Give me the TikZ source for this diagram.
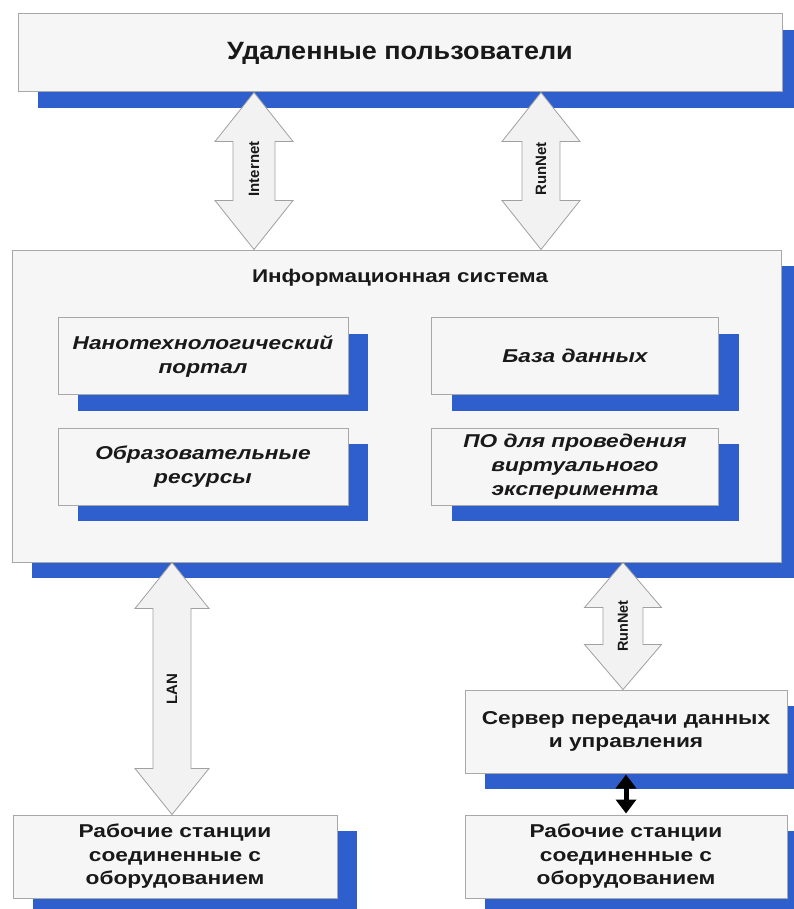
\documentclass[tikz,border=0pt]{standalone}
\usepackage{fontspec}
\setmainfont{Liberation Sans}
\newfontfamily\wideA[FakeStretch=1.08]{Liberation Sans}
\newfontfamily\wideB[FakeStretch=1.22]{Liberation Sans}
\usetikzlibrary{shadows,arrows.meta,calc}
\definecolor{sblue}{HTML}{2E5FCD}
\definecolor{boxfill}{HTML}{F6F6F6}
\definecolor{boxline}{HTML}{A8A8A8}
\definecolor{arrfill}{HTML}{F2F2F2}
\definecolor{arrline}{HTML}{A0A0A0}
% #1 x, #2 top anchor, #3 bottom anchor, #4 head half width, #5 shaft half width, #6 head length
\newcommand\dblarr[6]{%
  \draw[bigarrowline] let \p1=(#1|-#2), \p2=(#1|-#3) in
    (\x1,\y1) -- (\x1+#4pt,\y1-#6pt) -- (\x1+#5pt,\y1-#6pt) -- (\x1+#5pt,\y2+#6pt)
    -- (\x1+#4pt,\y2+#6pt) -- (\x1,\y2) -- (\x1-#4pt,\y2+#6pt) -- (\x1-#5pt,\y2+#6pt)
    -- (\x1-#5pt,\y1-#6pt) -- (\x1-#4pt,\y1-#6pt) -- cycle;}
\begin{document}
\begin{tikzpicture}[x=1pt,y=-1pt,
  blbox/.style={draw=boxline, line width=1pt, fill=boxfill, rectangle,
    align=center, inner sep=0pt, text=black!90,
    general shadow={fill=sblue, shadow xshift=20pt, shadow yshift=-16pt}},
  bigarrowline/.style={draw=arrline, line width=0.8pt, fill=arrfill, line join=miter},
  albl/.style={rotate=90, font=\bfseries\fontsize{15}{17}\selectfont, text=black!90, inner sep=0pt},
  ttl/.style={font=\wideA\bfseries\fontsize{25}{29}\selectfont},
  itl/.style={font=\wideB\bfseries\itshape\fontsize{18.6}{24}\selectfont},
  bod/.style={font=\wideB\bfseries\fontsize{18.6}{23.5}\selectfont}
]
\useasboundingbox (0,0) rectangle (794,909);
\fill[white] (0,0) rectangle (794,909);

% top box
\node[blbox, ttl, minimum width=764pt, minimum height=78pt] (users) at (400,53) {Удаленные пользователи};

% information system
\node[blbox, minimum width=769pt, minimum height=312pt] (info) at (396.5,406) {};
\node[font=\wideB\bfseries\fontsize{18.4}{21}\selectfont, text=black!90] (infottl) at (400,278) {Информационная система};

\node[blbox, itl, minimum width=290pt, minimum height=77pt] (portal) at (203,356) {Нанотехнологический\\портал};
\node[blbox, itl, minimum width=287pt, minimum height=77pt] (db) at (575,356) {База данных};
\node[blbox, itl, minimum width=290pt, minimum height=77pt] (edu) at (203,466.5) {Образовательные\\ресурсы};
\node[blbox, itl, minimum width=287pt, minimum height=77pt] (soft) at (575,466.5) {ПО для проведения\\виртуального\\эксперимента};

% lower boxes
\node[blbox, bod, minimum width=322pt, minimum height=83pt] (server) at (626,731.5) {Сервер передачи данных\\и управления};
\node[blbox, bod, minimum width=324pt, minimum height=83pt] (ws1) at (175,856.5) {Рабочие станции\\соединенные с\\оборудованием};
\node[blbox, bod, minimum width=322pt, minimum height=83pt] (ws2) at (626,856.5) {Рабочие станции\\соединенные с\\оборудованием};

% big double arrows
\coordinate (xinet) at (254,0);
\coordinate (xrun1) at (541,0);
\coordinate (xlan) at (172,0);
\coordinate (xrun2) at (623,0);
\dblarr{xinet}{users.south}{info.north}{39}{21}{49}
\dblarr{xrun1}{users.south}{info.north}{39}{19}{49}
\dblarr{xlan}{info.south}{ws1.north}{37}{19}{46}
\dblarr{xrun2}{info.south}{server.north}{38.5}{20}{45}
\node[albl] (linet) at (254,169) {Internet};
\node[albl] (lrun1) at (541,169) {RunNet};
\node[albl] (llan) at (172,689) {LAN};
\node[albl, font=\bfseries\fontsize{14.5}{17}\selectfont] (lrun2) at (623,626) {RunNet};

% black arrow
\draw[line width=5pt, {Triangle[width=20pt,length=14pt]}-{Triangle[width=20pt,length=14pt]}]
  ([yshift=-1pt]server.south) -- ([yshift=1pt]ws2.north);
\end{tikzpicture}
\end{document}
